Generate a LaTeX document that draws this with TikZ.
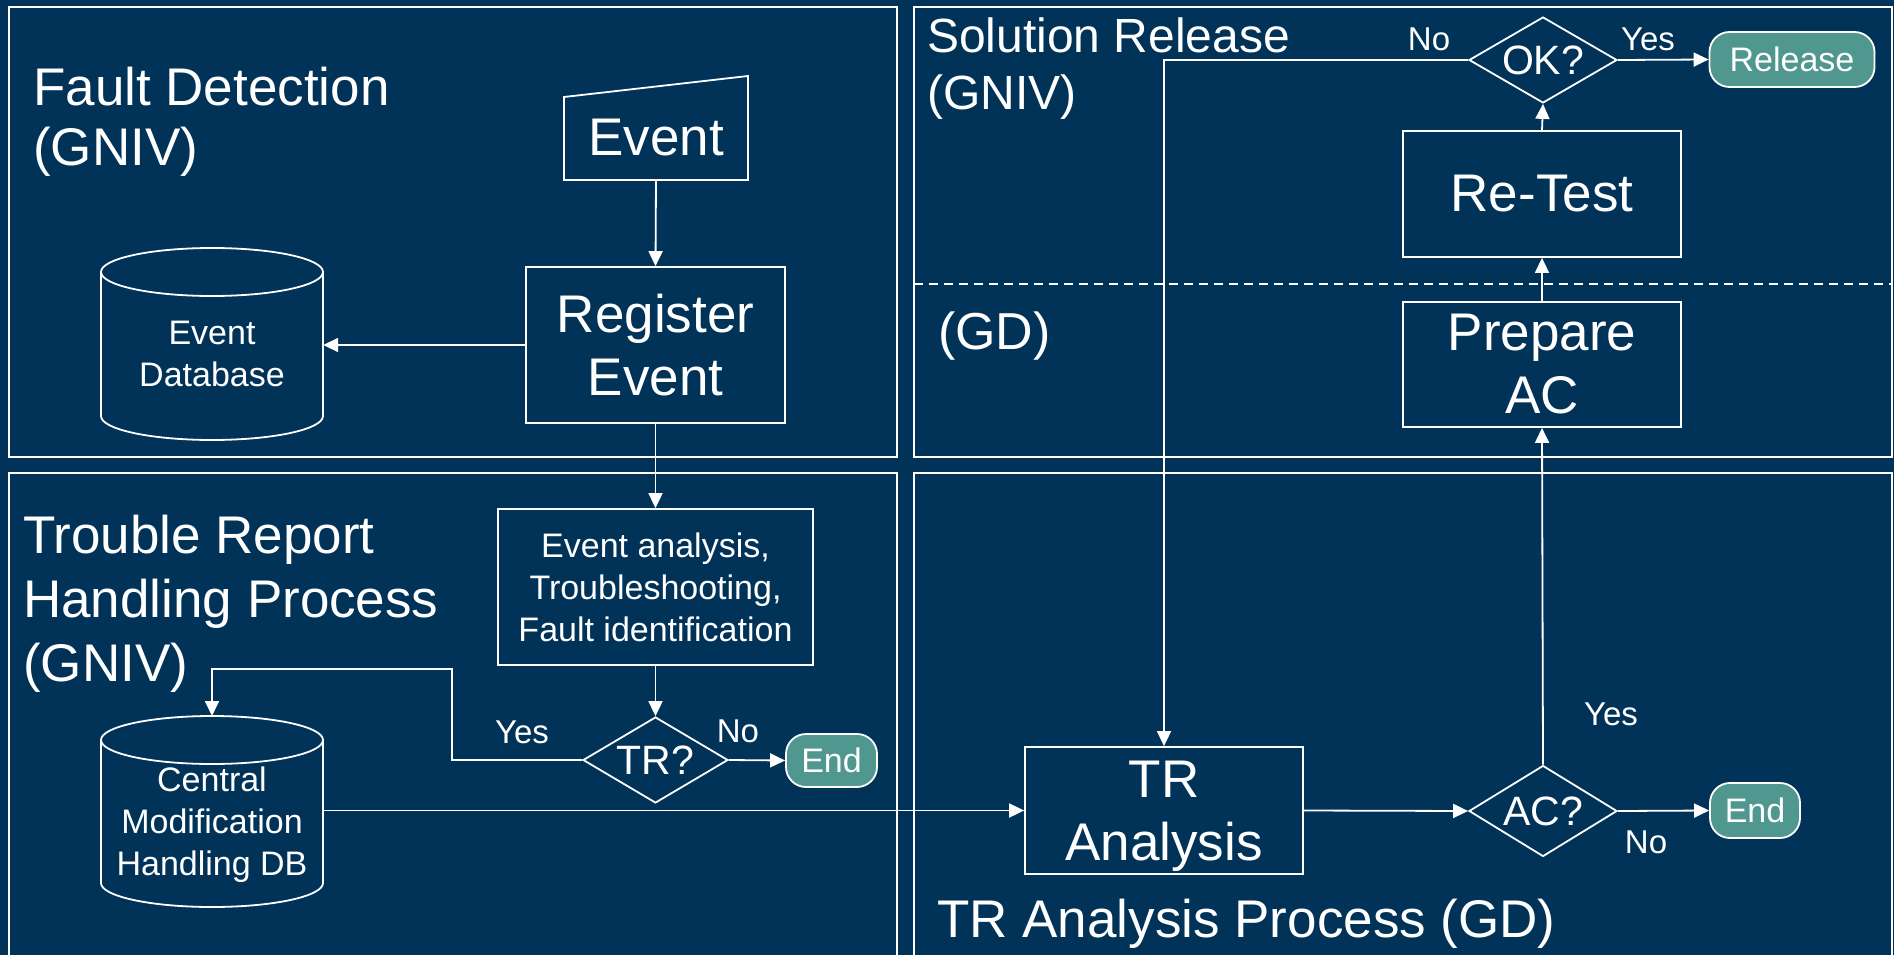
\documentclass[tikz,border=0pt]{standalone}
\usepackage{fontspec}
\setmainfont{Liberation Sans}
\usetikzlibrary{arrows.meta,shapes.geometric,calc}
\definecolor{bg}{RGB}{1,50,87}
\definecolor{termfill}{RGB}{80,151,143}
\begin{document}
\begin{tikzpicture}[x=1pt,y=-1pt,
  every node/.style={text=white},
  line/.style={draw=white, line width=1.8pt},
  arr/.style={line, -{Triangle[length=15pt,width=14pt]}},
  panel/.style={draw=white, line width=2pt},
  box/.style={draw=white, line width=1.8pt, rectangle, inner sep=0pt, align=center, font=\fontsize{53}{63}\selectfont},
  dec/.style={diamond, aspect=1.7, draw=white, line width=1.8pt, inner sep=0pt, font=\fontsize{41}{50}\selectfont},
  term/.style={draw=white, fill=termfill, rounded corners=20pt, line width=1.8pt, inner sep=0pt, font=\fontsize{34}{40}\selectfont},
  lbl/.style={font=\fontsize{33}{40}\selectfont, inner sep=0pt},
  small/.style={font=\fontsize{34}{42}\selectfont, align=center, inner sep=0pt},
  title/.style={align=left, inner sep=0pt, anchor=north west},
]
\fill[bg] (0,0) rectangle (1894,955);
\useasboundingbox (0,0) rectangle (1894,955);

% panels
\draw[panel] (9,7) rectangle (897,457);
\draw[panel] (914,7) rectangle (1892,457);
\draw[panel] (9,473) rectangle (897,970);
\draw[panel] (914,473) rectangle (1892,970);
\draw[line, dash pattern=on 9pt off 6pt] (914,284) -- (1892,284);

% titles
\node[title, font=\fontsize{53}{60}\selectfont] (t1) at (33,66.5) {Fault Detection\\(GNIV)};
\node[title, font=\fontsize{48}{57}\selectfont] (t2) at (927,18) {Solution Release\\(GNIV)};
\node[title, font=\fontsize{52}{60}\selectfont] (t3) at (938,312) {(GD)};
\node[title, font=\fontsize{53}{64}\selectfont] (t4) at (23,514.5) {Trouble Report\\Handling Process\\(GNIV)};
\node[title, font=\fontsize{53}{60}\selectfont] (t5) at (937,898.5) {TR Analysis Process (GD)};

% Fault detection
\node[inner sep=0pt, minimum width=184pt, minimum height=84pt, font=\fontsize{53}{63}\selectfont] (ev) at (656,138) {Event};
\draw[line] (564,97) -- (748,76) -- (748,180) -- (564,180) -- cycle;
\node[box, minimum width=259pt, minimum height=156pt] (reg) at (655.5,345) {Register\\Event};
\draw[line] (101,272) -- (101,416) arc[start angle=180, end angle=360, x radius=111pt, y radius=24pt] -- (323,272);
\draw[line] (212,272) ellipse [x radius=111pt, y radius=24pt];
\node[small, minimum width=222pt] (db1) at (212,354) {Event\\Database};

% Trouble report handling
\node[box, small, draw=white, minimum width=315pt, minimum height=156pt] (ea) at (655.5,587) {Event analysis,\\Troubleshooting,\\Fault identification};
\node[dec, minimum width=145pt, minimum height=86pt] (tr) at (655.5,760) {TR?};
\node[term, minimum width=91pt, minimum height=53pt] (end1) at (831.5,760.5) {End};
\draw[line] (101,740) -- (101,883) arc[start angle=180, end angle=360, x radius=111pt, y radius=24pt] -- (323,740);
\draw[line] (212,740) ellipse [x radius=111pt, y radius=24pt];
\node[small, minimum width=222pt] (db2) at (212,825) {Central\\Modification\\Handling DB};
\coordinate (db2top) at (212,716);

% TR analysis
\node[box, minimum width=278pt, minimum height=127pt] (tra) at (1164,810.5) {TR\\\raisebox{0pt}[\height][0pt]{Analysis}};
\node[dec, minimum width=148pt, minimum height=91pt] (ac) at (1543,811) {AC?};
\node[term, minimum width=90pt, minimum height=55pt] (end2) at (1755,810.5) {End};

% Solution release
\node[box, minimum width=278pt, minimum height=125pt] (prep) at (1542,364.5) {Prepare\\AC};
\node[box, minimum width=278pt, minimum height=126pt] (retest) at (1542,194) {Re-Test};
\node[dec, minimum width=148pt, minimum height=86pt] (ok) at (1543,60) {OK?};
\node[term, minimum width=165pt, minimum height=55pt] (rel) at (1792,59.5) {Release};

% labels
\node[lbl] (yes1) at (522,732) {Yes};
\node[lbl] (no1) at (738,731) {No};
\node[lbl] (yes2) at (1611,714) {Yes};
\node[lbl] (no2) at (1646,842) {No};
\node[lbl] (yes3) at (1648,39) {Yes};
\node[lbl] (no3) at (1429,39) {No};

% connectors
\draw[arr] (ev.south) -- (reg.north);
\draw[arr] (reg.west) -- (reg.west -| db1.east);
\draw[arr] (reg.south) -- (ea.north);
\draw[arr] (ea.south) -- (tr.north);
\draw[arr] (tr.east) -- (end1.west);
\draw[arr] (tr.west) -| (452,669) -| (db2top);
\draw[arr] (tra.west -| db2.east) -- (tra.west);
\draw[arr] (tra.east) -- (ac.west);
\draw[arr] (ac.east) -- (end2.west);
\draw[arr] (ac.north) -- (prep.south);
\draw[arr] (prep.north) -- (retest.south);
\draw[arr] (retest.north) -- (ok.south);
\draw[arr] (ok.east) -- (rel.west);
\draw[arr] (ok.west) -| (tra.north);
\end{tikzpicture}
\end{document}
